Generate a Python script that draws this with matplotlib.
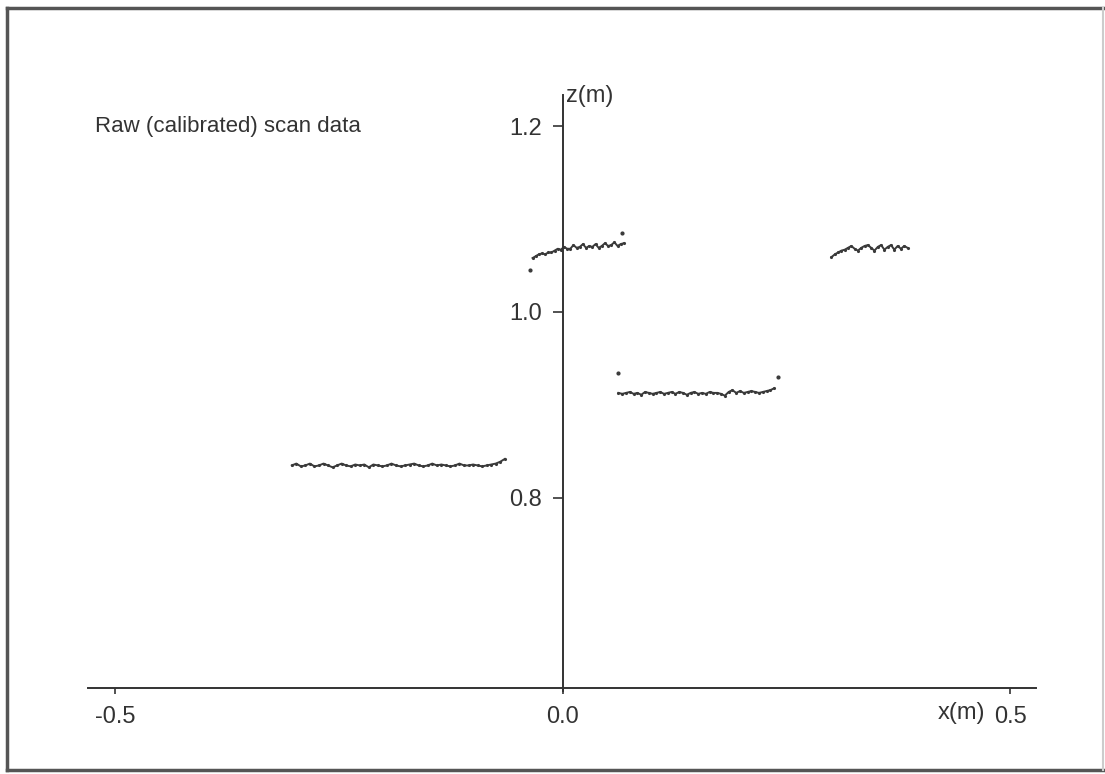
import numpy as np
import matplotlib
matplotlib.use("Agg")
import matplotlib.pyplot as plt
from matplotlib.lines import Line2D

plt.rcParams['font.family'] = ['Liberation Sans', 'DejaVu Sans']

# scan segments: x start/end (m) and measured heights z (m)
seg1_x = (-0.303, -0.065)
seg1_z = [0.835, 0.837, 0.834, 0.835, 0.837, 0.834, 0.835, 0.837, 0.835, 0.833,
          0.835, 0.837, 0.835, 0.834, 0.836, 0.835, 0.836, 0.833, 0.836, 0.835,
          0.834, 0.835, 0.837, 0.835, 0.834, 0.835, 0.836, 0.837, 0.835, 0.834,
          0.835, 0.837, 0.835, 0.836, 0.835, 0.834, 0.835, 0.837, 0.835, 0.835,
          0.836, 0.835, 0.834, 0.835, 0.836, 0.837, 0.839, 0.842]

seg2_x = (-0.034, 0.068)
seg2_z = [1.058, 1.060, 1.062, 1.063, 1.062, 1.064, 1.064, 1.066, 1.068, 1.067,
          1.070, 1.068, 1.068, 1.072, 1.069, 1.070, 1.073, 1.069, 1.071, 1.070,
          1.073, 1.069, 1.071, 1.074, 1.071, 1.072, 1.075, 1.071, 1.073, 1.074]

seg3_x = (0.062, 0.236)
seg3_z = [0.913, 0.912, 0.913, 0.914, 0.912, 0.913, 0.911, 0.914, 0.913, 0.912,
          0.913, 0.914, 0.912, 0.913, 0.914, 0.912, 0.914, 0.913, 0.911, 0.913,
          0.914, 0.912, 0.913, 0.912, 0.914, 0.913, 0.913, 0.912, 0.910, 0.914,
          0.916, 0.913, 0.915, 0.913, 0.914, 0.915, 0.914, 0.913, 0.914, 0.915,
          0.916, 0.918]

seg4_x = (0.300, 0.385)
seg4_z = [1.059, 1.062, 1.064, 1.066, 1.067, 1.069, 1.071, 1.068, 1.066, 1.069,
          1.071, 1.072, 1.069, 1.066, 1.070, 1.072, 1.067, 1.070, 1.072, 1.067,
          1.071, 1.068, 1.071, 1.069]

# isolated returns at the edges
out_x = [-0.037, 0.066, 0.061, 0.240]
out_z = [1.045, 1.085, 0.934, 0.930]

xticks = [-0.5, 0.0, 0.5]
xticklabels = ['-0.5', '0.0', '0.5']
zticks = [0.8, 1.0, 1.2]
zticklabels = ['0.8', '1.0', '1.2']

ink = '#333333'

fig = plt.figure(figsize=(11.05, 7.74), dpi=100)
ax = fig.add_axes([0, 0, 1, 1])
ax.set_xlim(-0.629, 0.6056)
ax.set_ylim(0.5032, 1.3355)
ax.patch.set_alpha(0)

for (x0, x1), z in [(seg1_x, seg1_z), (seg2_x, seg2_z), (seg3_x, seg3_z), (seg4_x, seg4_z)]:
    xs = np.linspace(x0, x1, len(z))
    ax.plot(xs, z, '-', color='#3a3a3a', lw=1.4, marker='.', ms=2.5)
ax.plot(out_x, out_z, '.', color='#3a3a3a', ms=4)

# axes crossing like the original drawing
for s in ['top', 'right']:
    ax.spines[s].set_visible(False)
ax.spines['left'].set_position(('data', 0.0))
ax.spines['left'].set_bounds(0.592, 1.233)
ax.spines['bottom'].set_position(('data', 0.596))
ax.spines['bottom'].set_bounds(-0.531, 0.528)
for s in ['left', 'bottom']:
    ax.spines[s].set_color(ink)
    ax.spines[s].set_linewidth(1.4)

ax.set_yticks(zticks)
ax.set_yticklabels(zticklabels)
ax.set_xticks(xticks)
ax.set_xticklabels(xticklabels)
ax.tick_params(axis='y', direction='out', length=7, width=1.2, pad=8,
               labelsize=17, colors=ink)
ax.tick_params(axis='x', direction='out', length=4, width=1.2, pad=9,
               labelsize=17, colors=ink)

ax.text(0.003, 1.232, 'z(m)', fontsize=17, color=ink, ha='left', va='center')
ax.text(0.445, 0.569, 'x(m)', fontsize=17, color=ink, ha='center', va='center')
ax.text(-0.523, 1.2, 'Raw (calibrated) scan data', fontsize=16, color=ink,
        ha='left', va='center')

# page frame
fig.add_artist(Line2D([7 / 1105, 7 / 1105], [4 / 774, 766 / 774], color='#555555', lw=2.5))
fig.add_artist(Line2D([7 / 1105, 1105 / 1105], [766 / 774, 766 / 774], color='#555555', lw=2.5))
fig.add_artist(Line2D([7 / 1105, 1105 / 1105], [4 / 774, 4 / 774], color='#555555', lw=2.5))
fig.add_artist(Line2D([1103 / 1105, 1103 / 1105], [4 / 774, 766 / 774], color='#cccccc', lw=1.5))

fig.savefig('out.png', dpi=100)
